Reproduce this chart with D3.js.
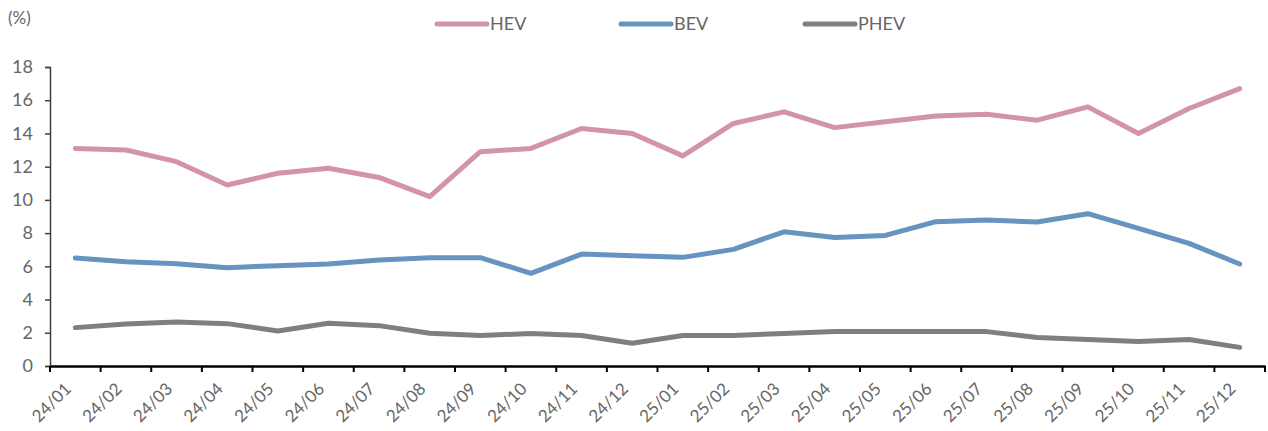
<!DOCTYPE html>
<html>
<head>
<meta charset="utf-8">
<script src="https://cdn.jsdelivr.net/npm/d3@7"></script>
<style>
  body { margin: 0; background: #fff; }
  svg { display: block; }
  svg text { font-family: Lato, "DejaVu Sans", sans-serif; fill: #666; }
</style>
</head>
<body>
<svg id="chart" width="1268" height="431"></svg>
<script>
var months = ["24/01","24/02","24/03","24/04","24/05","24/06","24/07","24/08","24/09","24/10","24/11","24/12",
              "25/01","25/02","25/03","25/04","25/05","25/06","25/07","25/08","25/09","25/10","25/11","25/12"];
var hev  = [13.1,13.0,12.3,10.9,11.6,11.9,11.35,10.2,12.9,13.1,14.3,14.0,12.65,14.6,15.3,14.35,14.7,15.05,15.15,14.8,15.6,14.0,15.5,16.7];
var bev  = [6.5,6.28,6.15,5.92,6.04,6.14,6.38,6.52,6.52,5.58,6.74,6.64,6.54,7.02,8.08,7.74,7.86,8.69,8.79,8.67,9.17,8.29,7.38,6.14];
var phev = [2.31,2.53,2.65,2.55,2.11,2.57,2.43,1.97,1.84,1.95,1.84,1.37,1.84,1.84,1.96,2.07,2.07,2.07,2.07,1.72,1.6,1.48,1.6,1.12];
var yTicks = [0,2,4,6,8,10,12,14,16,18];
var seriesNames = ["HEV","BEV","PHEV"];
var seriesColors = ["#d494a8","#6693bf","#7f7f7f"];

var svg = d3.select("#chart"),
    margin = {top: 67, right: 3, bottom: 65, left: 50},
    width = +svg.attr("width") - margin.left - margin.right,
    height = +svg.attr("height") - margin.top - margin.bottom;

var x = d3.scaleBand().domain(months).range([0, width]),
    y = d3.scaleLinear().domain([0, 18]).range([height, 0]);

var g = svg.append("g")
    .attr("transform", "translate(" + margin.left + "," + margin.top + ")");

// y axis
var yAxis = g.append("g")
    .attr("class", "axis axis--y")
    .call(d3.axisLeft(y).tickValues(yTicks).tickSize(5).tickPadding(12));
yAxis.select(".domain").attr("stroke", "#404040").attr("stroke-width", 1.5);
yAxis.selectAll(".tick line").attr("stroke", "#404040").attr("stroke-width", 1.5);
yAxis.selectAll("text").style("font-size", "18px");

// x axis: labels under band centres, ticks at band edges
var xAxis = g.append("g")
    .attr("class", "axis axis--x")
    .attr("transform", "translate(0," + height + ")")
    .call(d3.axisBottom(x).tickSize(0).tickPadding(0));
xAxis.select(".domain").attr("stroke", "#000").attr("stroke-width", 2.5);
xAxis.selectAll(".tick text")
    .style("font-size", "17px")
    .attr("text-anchor", "end")
    .attr("dy", "0")
    .attr("transform", "translate(-3,24) rotate(-45)");

var edges = months.map(function (d) { return x(d); }).concat([x.range()[1]]);
xAxis.selectAll(".edge")
    .data(edges)
    .enter().append("line")
    .attr("class", "edge")
    .attr("x1", function (d) { return d; })
    .attr("x2", function (d) { return d; })
    .attr("y1", 0)
    .attr("y2", 6)
    .attr("stroke", "#000")
    .attr("stroke-width", 2);

svg.append("text")
    .attr("x", 8).attr("y", 24)
    .style("font-size", "17px")
    .text("(%)");

// lines
var line = d3.line()
    .x(function (d, i) { return x(months[i]) + x.bandwidth() / 2; })
    .y(function (d) { return y(d); });

[hev, bev, phev].forEach(function (s, k) {
    g.append("path")
        .datum(s)
        .attr("fill", "none")
        .attr("stroke", seriesColors[k])
        .attr("stroke-width", 5)
        .attr("stroke-linejoin", "round")
        .attr("stroke-linecap", "round")
        .attr("d", line);
});

// legend
var legend = svg.append("g").attr("transform", "translate(437,24)");
var item = legend.selectAll(".item")
    .data(seriesNames)
    .enter().append("g")
    .attr("transform", function (d, i) { return "translate(" + (i * 184) + ",0)"; });
item.append("line")
    .attr("x1", 0).attr("x2", 50)
    .attr("stroke", function (d, i) { return seriesColors[i]; })
    .attr("stroke-width", 5)
    .attr("stroke-linecap", "round");
item.append("text")
    .attr("x", 53).attr("dy", "0.36em")
    .style("font-size", "18px")
    .text(function (d) { return d; });
</script>
</body>
</html>
